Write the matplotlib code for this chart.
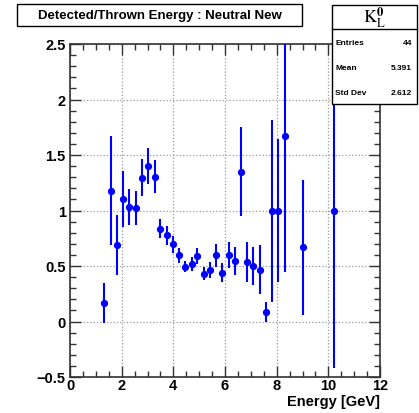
import matplotlib
matplotlib.use("Agg")
import matplotlib.pyplot as plt
from matplotlib.ticker import MultipleLocator
from matplotlib.patches import Rectangle

energy = [1.33, 1.57, 1.83, 2.06, 2.30, 2.56, 2.77, 3.03, 3.28, 3.48, 3.74, 4.00,
          4.22, 4.45, 4.71, 4.93, 5.19, 5.42, 5.65, 5.90, 6.16, 6.39, 6.61, 6.85,
          7.10, 7.34, 7.58, 7.80, 8.07, 8.31, 9.01, 10.22]
ratio = [0.166, 1.18, 0.69, 1.105, 1.03, 1.02, 1.295, 1.40, 1.306, 0.835, 0.775, 0.695,
         0.595, 0.495, 0.517, 0.589, 0.43, 0.466, 0.595, 0.439, 0.595, 0.547, 1.351, 0.535,
         0.502, 0.466, 0.085, 0.997, 1.0, 1.67, 0.667, 1.0]
errors = [0.18, 0.49, 0.27, 0.25, 0.165, 0.155, 0.167, 0.165, 0.15, 0.085, 0.085, 0.075,
          0.07, 0.053, 0.06, 0.073, 0.06, 0.07, 0.1, 0.085, 0.117, 0.128, 0.40, 0.18,
          0.17, 0.22, 0.093, 0.82, 0.643, 1.225, 0.61, 1.42]

title = "Detected/Thrown Energy : Neutral New"
stats_labels = ["Entries", "Mean", "Std Dev"]
stats_values = ["44", "5.391", "2.612"]

plt.rcParams['font.family'] = ['Liberation Sans', 'DejaVu Sans']

W, H = 419, 414
fig = plt.figure(figsize=(W / 100, H / 100), dpi=100)
fig.patch.set_facecolor("white")

ax = fig.add_axes([70 / W, 1 - 378 / H, 310 / W, 333 / H])
ax.set_xlim(0, 12)
ax.set_ylim(-0.5, 2.5)

ax.errorbar(energy, ratio, yerr=errors, fmt='o', color='#0000ff', ecolor='#0000ff',
            elinewidth=1.5, markersize=4.2, capsize=0, zorder=3)

ax.xaxis.set_major_locator(MultipleLocator(2))
ax.xaxis.set_minor_locator(MultipleLocator(0.5))
ax.yaxis.set_major_locator(MultipleLocator(0.5))
ax.yaxis.set_minor_locator(MultipleLocator(0.1))
ax.tick_params(which='both', direction='in', top=True, right=True, width=1.0, color='#333333')
ax.tick_params(which='major', length=8, labelsize=10.5, pad=3)
ax.tick_params(which='minor', length=4)
ax.tick_params(axis='x', which='major', pad=1)
ax.set_xticks([0, 2, 4, 6, 8, 10, 12])
ax.set_xticklabels(['0', '2', '4', '6', '8', '10', '12'], fontweight='bold')
ax.set_yticks([-0.5, 0, 0.5, 1, 1.5, 2, 2.5])
ax.set_yticklabels(['\u22120.5', '0', '0.5', '1', '1.5', '2', '2.5'], fontweight='bold')

ax.grid(True, which='major', linestyle=':', color='#999999', linewidth=0.9)
for s in ax.spines.values():
    s.set_linewidth(1.2)
    s.set_color('#333333')

ax.set_xlabel("Energy [GeV]", fontsize=10.5, fontweight='bold', loc='right', labelpad=1)

# Title box
fig.patches.append(Rectangle((17 / W, 1 - 27 / H), 285 / W, 22 / H, transform=fig.transFigure,
                             facecolor='white', edgecolor='black', linewidth=1.0, zorder=5))
fig.text(159.5 / W, 1 - 16 / H, title, ha='center', va='center', fontsize=9.5,
         fontweight='bold', zorder=6)

# Stats box
bx0, bx1, by0, by1 = 331.5, 416.5, 5.5, 105
fig.patches.append(Rectangle((bx0 / W, 1 - by1 / H), (bx1 - bx0) / W, (by1 - by0) / H,
                             transform=fig.transFigure, facecolor='white', edgecolor='black',
                             linewidth=1.0, zorder=5))
fig.add_artist(plt.Line2D([bx0 / W, bx1 / W], [1 - 29.5 / H, 1 - 29.5 / H],
                          transform=fig.transFigure, color='black', linewidth=1.0, zorder=6))
fig.text((bx0 + bx1) / 2 / W, 1 - 18 / H, r"$\mathrm{K}_{\mathrm{L}}^{\mathbf{0}}$",
         ha='center', va='center', fontsize=13, zorder=7,
         family='DejaVu Serif', math_fontfamily='stix')
rows_y = [43.3, 68, 93.3]
for lab, val, yy in zip(stats_labels, stats_values, rows_y):
    fig.text(335 / W, 1 - yy / H, lab, ha='left', va='center', fontsize=6, fontweight='bold', zorder=7)
    fig.text(412 / W, 1 - yy / H, val, ha='right', va='center', fontsize=6, fontweight='bold', zorder=7)

fig.savefig("out.png", dpi=100)
